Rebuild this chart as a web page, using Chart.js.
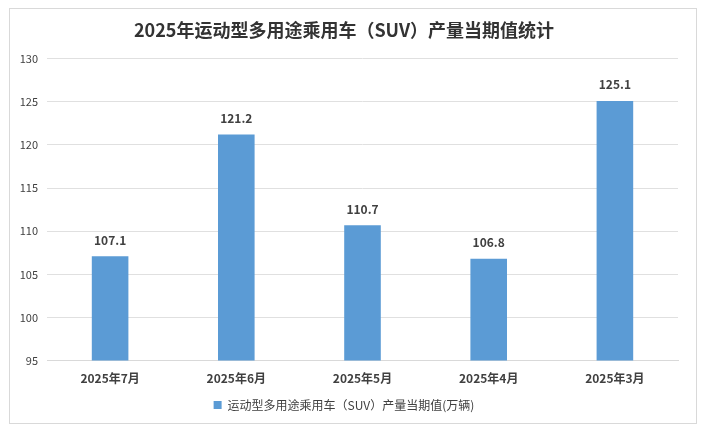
<!DOCTYPE html>
<html>
<head>
<meta charset="utf-8">
<script src="https://cdn.jsdelivr.net/npm/chart.js@4.4.1/dist/chart.umd.min.js"></script>
<style>
  html, body { margin: 0; padding: 0; background: #fff; }
  #box {
    position: absolute; left: 9px; top: 8px;
    width: 686px; height: 414px;
    border: 1px solid #d9d9d9; background: #fff;
  }
</style>
</head>
<body>
<div id="box"><canvas id="chart" width="686" height="414"></canvas></div>
<script>
const months = ['2025年7月', '2025年6月', '2025年5月', '2025年4月', '2025年3月'];
const output = [107.1, 121.2, 110.7, 106.8, 125.1];
const seriesName = '运动型多用途乘用车（SUV）产量当期值(万辆)';
const titleText = '2025年运动型多用途乘用车（SUV）产量当期值统计';

const FONT = '"Microsoft YaHei", "Noto Sans CJK SC", sans-serif';

// 柱顶数值
const barLabels = {
    id: 'barLabels',
    afterDatasetsDraw(chart) {
        const ctx = chart.ctx;
        const meta = chart.getDatasetMeta(0);
        ctx.save();
        ctx.font = 'bold 12px ' + FONT;
        ctx.fillStyle = '#404040';
        ctx.textAlign = 'center';
        ctx.textBaseline = 'bottom';
        meta.data.forEach((bar, i) => {
            ctx.fillText(output[i].toFixed(1), bar.x, bar.y - 10);
        });
        ctx.restore();
    }
};

new Chart(document.getElementById('chart'), {
    type: 'bar',
    data: {
        labels: months,
        datasets: [{
            label: seriesName,
            data: output,
            backgroundColor: '#5B9BD5',
            barPercentage: 0.29,
            categoryPercentage: 1
        }]
    },
    options: {
        responsive: false,
        animation: false,
        layout: { padding: { left: 0, right: 18, top: 0, bottom: 2 } },
        plugins: {
            title: {
                display: true,
                text: titleText,
                color: '#333',
                font: { family: FONT, size: 18, weight: 'bold' },
                padding: { top: 10, bottom: 18 }
            },
            legend: {
                position: 'bottom',
                labels: {
                    boxWidth: 8, boxHeight: 8,
                    color: '#404040',
                    font: { family: FONT, size: 12 },
                    padding: 10
                }
            },
            tooltip: { enabled: false }
        },
        scales: {
            x: {
                grid: { display: false },
                border: { color: '#d9d9d9' },
                ticks: {
                    color: '#404040',
                    font: { family: FONT, size: 12, weight: 'bold' },
                    padding: 3
                }
            },
            y: {
                min: 95, max: 130,
                afterFit(scale) { scale.width = 37; },
                grid: { color: '#e0e0e0', drawTicks: false },
                border: { display: false },
                ticks: {
                    stepSize: 5,
                    color: '#404040',
                    font: { family: FONT, size: 11 },
                    padding: 9
                }
            }
        }
    },
    plugins: [barLabels]
});
</script>
</body>
</html>
